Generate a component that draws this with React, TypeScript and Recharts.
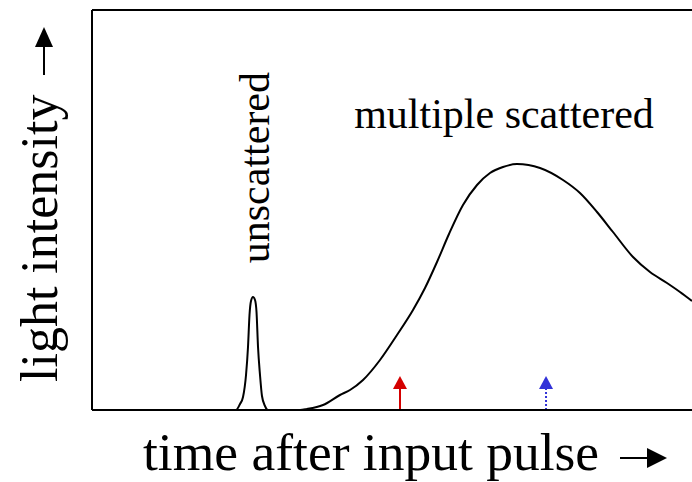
import { Line, LineChart, ReferenceDot, ReferenceLine, XAxis, YAxis } from "recharts";

const FONT = "'Liberation Serif', 'Times New Roman', Times, 'DejaVu Serif', serif";

// time (0..100) vs light intensity (0..100)
const peakTime = [0, 24.0, 24.67, 25.17, 25.67, 26.0, 26.25, 26.5, 26.83, 27.17, 27.42, 27.67, 28.0, 28.33, 28.83, 29.33];
const peakLevel = [0, 0, 1.5, 3.25, 8.75, 15.75, 23.75, 27.25, 28.25, 27.5, 24.5, 15.75, 8.75, 3.5, 1.0, 0];

const diffuseTime = [34.67, 35.83, 38.5, 41.33, 43.0, 45.17, 48.0, 50.83, 53.5, 55.5, 57.5, 59.5, 61.83, 64.17, 66.33, 68.5, 70.83, 74.67, 78.5, 81.33, 84.17, 86.83, 90.17, 93.0, 95.83, 98.0, 100];
const diffuseLevel = [0, 0.25, 1.25, 3.75, 5, 7.5, 12.5, 18.75, 25, 30.5, 37, 44, 51.25, 56.25, 59.25, 60.75, 61.5, 60.5, 57.5, 54.25, 49.5, 44.5, 38.25, 34.5, 31.75, 29.5, 27.25];

const markerTime = [51.33, 75.67];
const markerTip = 8.5;
const markerHeadBase = 5.25;
const markerColor = ["#d40000", "#3232d8"];
const markerDash = [undefined, "2 2"];

const labelScattered = { t: 68.67, v: 70.5, text: "multiple scattered" };
const labelUnscattered = { t: 29.5, v: 60.6, text: "unscattered" };

const rows = [
  ...peakTime.map((t, i) => ({ t, v: peakLevel[i] })),
  ...diffuseTime.map((t, i) => ({ t, v: diffuseLevel[i] }))
];

function XTitle(props: any) {
  const { x, y } = props.viewBox;
  const ay = y + 48;
  return (
    <g>
      <text x={x + 51} y={y + 60} fontFamily={FONT} fontSize={53.5} fill="#000">
        time after input pulse
      </text>
      <line x1={x + 528} y1={ay} x2={x + 556} y2={ay} stroke="#000" strokeWidth={2} />
      <path d={`M${x + 555},${ay - 10} L${x + 575},${ay} L${x + 555},${ay + 10} Z`} fill="#000" />
    </g>
  );
}

function YTitle(props: any) {
  const { x, y } = props.viewBox;
  const bx = x + 57;
  const by = y + 372;
  const ax = x + 44;
  return (
    <g>
      <text
        x={bx}
        y={by}
        fontFamily={FONT}
        fontSize={52}
        fill="#000"
        transform={`rotate(-90, ${bx}, ${by})`}
      >
        light intensity
      </text>
      <line x1={ax} y1={y + 65} x2={ax} y2={y + 36} stroke="#000" strokeWidth={2} />
      <path d={`M${ax - 9},${y + 37} L${ax},${y + 17} L${ax + 9},${y + 37} Z`} fill="#000" />
    </g>
  );
}

function Note(props: any) {
  const { x, y } = props.viewBox;
  return (
    <text x={x} y={y} textAnchor="middle" fontFamily={FONT} fontSize={42} fill="#000">
      {labelScattered.text}
    </text>
  );
}

function SideNote(props: any) {
  const { x, y } = props.viewBox;
  return (
    <text
      x={x}
      y={y}
      textAnchor="middle"
      fontFamily={FONT}
      fontSize={42}
      fill="#000"
      transform={`rotate(-90, ${x}, ${y})`}
    >
      {labelUnscattered.text}
    </text>
  );
}

const head = (color: string) => (p: any) => (
  <path d={`M${p.cx},${p.cy} L${p.cx + 7},${p.cy + 13} L${p.cx - 7},${p.cy + 13} Z`} fill={color} />
);

export default function App() {
  return (
    <div style={{ position: "absolute", left: 0, top: 0, width: 692, height: 482, overflow: "hidden", background: "#fff", fontFamily: FONT }}>
      <LineChart width={702} height={482} data={rows} margin={{ top: 10, right: 10, left: 0, bottom: 0 }}>
        <XAxis
          dataKey="t"
          type="number"
          domain={[0, 100]}
          height={72}
          tick={false}
          tickLine={false}
          axisLine={{ stroke: "#000", strokeWidth: 2 }}
          label={{ content: XTitle }}
        />
        <YAxis
          type="number"
          domain={[0, 100]}
          width={92}
          tick={false}
          tickLine={false}
          axisLine={{ stroke: "#000", strokeWidth: 2 }}
          label={{ content: YTitle }}
        />
        <ReferenceLine y={100} stroke="#000" strokeWidth={2} />
        {markerTime.map((t, i) => (
          <ReferenceLine
            key={`s${i}`}
            segment={[{ x: t, y: 0 }, { x: t, y: markerHeadBase }]}
            stroke={markerColor[i]}
            strokeWidth={2}
            strokeDasharray={markerDash[i]}
          />
        ))}
        {markerTime.map((t, i) => (
          <ReferenceDot key={`h${i}`} x={t} y={markerTip} r={1} shape={head(markerColor[i])} />
        ))}
        <Line
          type="monotone"
          dataKey="v"
          stroke="#000"
          strokeWidth={2}
          dot={false}
          isAnimationActive={false}
        />
        <ReferenceDot x={labelScattered.t} y={labelScattered.v} r={0} fill="none" stroke="none" label={{ content: Note }} />
        <ReferenceDot x={labelUnscattered.t} y={labelUnscattered.v} r={0} fill="none" stroke="none" label={{ content: SideNote }} />
      </LineChart>
    </div>
  );
}
